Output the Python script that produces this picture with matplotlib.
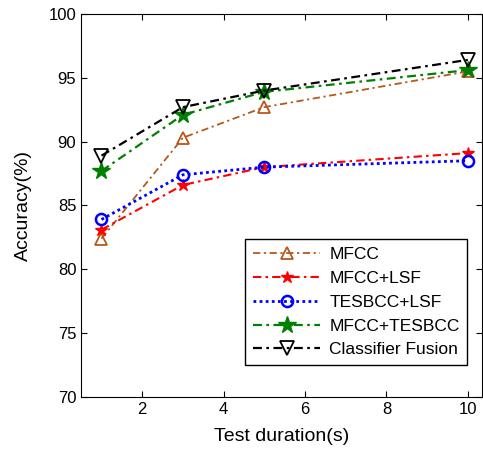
import matplotlib
matplotlib.use('Agg')
import matplotlib.pyplot as plt

plt.rcParams['font.family'] = ['Liberation Sans', 'DejaVu Sans']

durations = [1, 3, 5, 10]
mfcc = [82.4, 90.3, 92.7, 95.5]
mfcc_lsf = [83.1, 86.6, 88.0, 89.1]
tesbcc_lsf = [83.9, 87.4, 88.0, 88.5]
mfcc_tesbcc = [87.7, 92.1, 93.9, 95.6]
fusion = [88.9, 92.7, 94.0, 96.4]

dashdot = (0, (4, 2, 1.2, 2))

fig = plt.figure(figsize=(4.83, 4.5), dpi=100)
ax = fig.add_axes([0.168, 0.118, 0.83, 0.851])

ax.plot(durations, mfcc, color='#b5581a', linestyle=dashdot, marker='^',
        markerfacecolor='none', markersize=9, markeredgewidth=1.3, linewidth=1.3, label='MFCC')
ax.plot(durations, mfcc_lsf, color='red', linestyle=dashdot, marker='*',
        markersize=9, linewidth=1.5, label='MFCC+LSF')
ax.plot(durations, tesbcc_lsf, color='blue', linestyle=(0, (1, 1.2)), marker='o',
        markerfacecolor='none', markersize=8, markeredgewidth=1.8, linewidth=2, label='TESBCC+LSF')
ax.plot(durations, mfcc_tesbcc, color='green', linestyle=dashdot, marker='*',
        markersize=13, linewidth=1.6, label='MFCC+TESBCC')
ax.plot(durations, fusion, color='black', linestyle=dashdot, marker='v',
        markerfacecolor='none', markersize=10, markeredgewidth=1.3, linewidth=1.6, label='Classifier Fusion')

ax.set_xlim(0.5, 10.35)
ax.set_ylim(70, 100)
ax.set_xticks([2, 4, 6, 8, 10])
ax.set_yticks([70, 75, 80, 85, 90, 95, 100])
ax.tick_params(direction='in', top=True, right=True, labelsize=12, length=4)
ax.set_xlabel('Test duration(s)', fontsize=14, labelpad=8)
ax.set_ylabel('Accuracy(%)', fontsize=14, labelpad=12)

leg = ax.legend(loc='lower right', bbox_to_anchor=(0.985, 0.06), fontsize=12.5,
                fancybox=False, edgecolor='black', framealpha=1, handlelength=3.9,
                borderpad=0.45, labelspacing=0.5, handletextpad=0.5)
leg.get_frame().set_linewidth(1.0)

fig.savefig('out.png', dpi=100)
